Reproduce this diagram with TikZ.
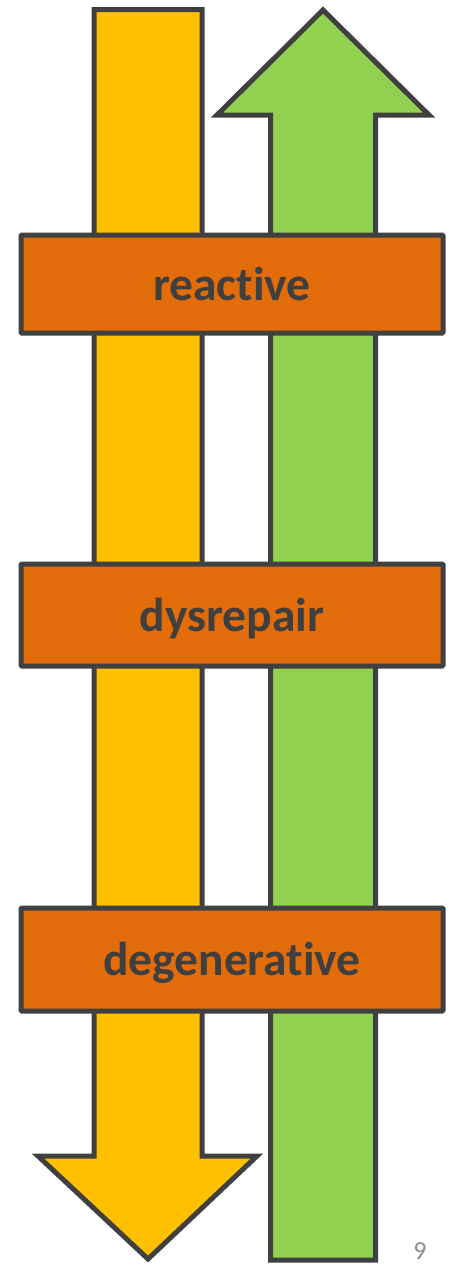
\documentclass[tikz,border=0pt]{standalone}
\usepackage{fontspec}
\setmainfont{Carlito}[Ligatures=NoCommon,RawFeature={-liga;-clig;-dlig;-calt}]
\definecolor{stroke}{HTML}{404040}
\definecolor{yel}{HTML}{FFC000}
\definecolor{grn}{HTML}{92D050}
\definecolor{org}{HTML}{E26B0A}
\definecolor{txt}{HTML}{3F3F3F}
\definecolor{pg}{HTML}{8C8C8C}
\tikzset{
  arrowshape/.style={draw=stroke, line width=5pt, line join=miter},
  stage/.style={draw=stroke, fill=org, line width=5pt, rounded corners=1pt,
    minimum width=422pt, inner sep=0pt, outer sep=0pt,
    text=txt, font=\fontsize{47.5}{50}\selectfont\bfseries,
    text height=32pt, text depth=0pt},
  pagenum/.style={text=pg, font=\fontsize{26}{30}\selectfont, inner sep=0pt, anchor=base}
}
\begin{document}
\begin{tikzpicture}[x=1pt,y=-1pt]
\useasboundingbox (0,0) rectangle (448,1264);
% yellow down arrow
\draw[arrowshape, fill=yel] (94,9.5) -- (202,9.5) -- (202,1156) -- (257,1156) -- (148,1259) -- (38,1156) -- (94,1156) -- cycle;
% green up arrow
\draw[arrowshape, fill=grn] (270.5,1260) -- (270.5,115) -- (217,115) -- (323,10) -- (429,115) -- (375.5,115) -- (375.5,1260) -- cycle;
% stage boxes
\node[stage, minimum height=98pt] (reactive) at (232,284) {reactive};
\node[stage, minimum height=102pt] (dysrepair) at (232,615) {dysrepair};
\node[stage, minimum height=103pt] (degenerative) at (232,959.5) {degenerative};
% page number
\node[pagenum] (pnum) at (420,1259) {9};
\end{tikzpicture}
\end{document}
